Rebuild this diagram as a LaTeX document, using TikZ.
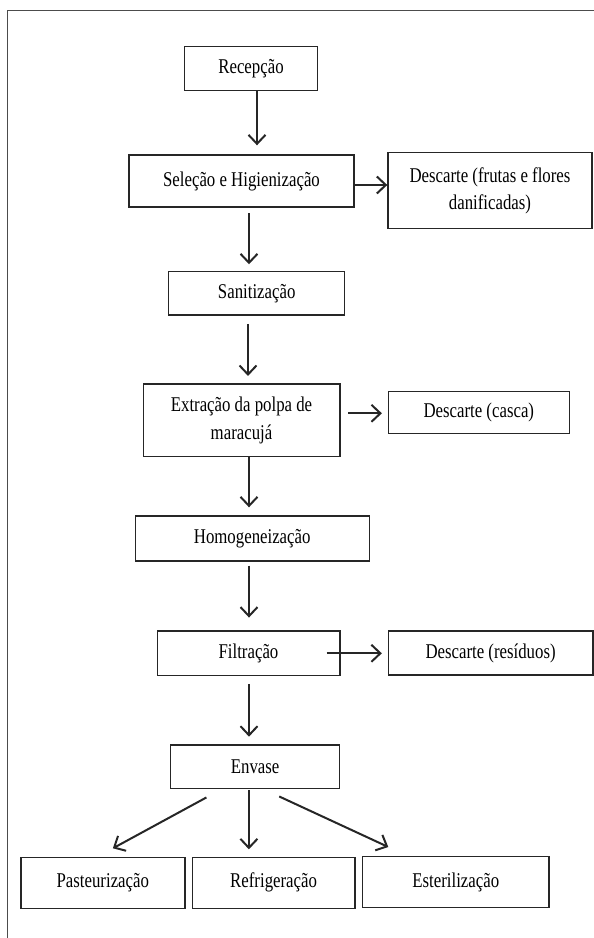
\documentclass[tikz,border=0pt]{standalone}
\usepackage{fontspec}
\setmainfont{Liberation Serif}[FakeStretch=0.8]
\usetikzlibrary{arrows.meta,calc}
\begin{document}
\begin{tikzpicture}[x=1pt,y=-1pt,
  box/.style={draw=black!85,line width=1.4pt,rectangle,inner sep=0pt,align=center,
    font=\fontsize{21}{27.5}\selectfont},
  arr/.style={draw=black!85,line width=2pt,-{Straight Barb[length=9pt,width=17pt]}},
  frame/.style={draw=black!70,line width=1.2pt}]
\useasboundingbox (0,0) rectangle (594,938);
\draw[frame] (7.5,938) -- (7.5,10.5) -- (594,10.5);

\node[box,minimum width=133pt,minimum height=44pt] (rec) at (251,68.7) {Recepção};
\node[box,minimum width=225pt,minimum height=52pt] (sel) at (241.5,181) {Seleção e Higienização};
\node[box,minimum width=204pt,minimum height=76pt] (dfr) at (490,190.7) {Descarte (frutas e flores\\danificadas)};
\node[box,minimum width=176pt,minimum height=43.3pt] (san) at (256.7,293.3) {Sanitização};
\node[box,minimum width=196.6pt,minimum height=72.7pt] (ext) at (241.5,420.3) {Extração da polpa de\\maracujá};
\node[box,minimum width=181pt,minimum height=41.6pt] (dca) at (478.8,412.5) {Descarte (casca)};
\node[box,minimum width=234pt,minimum height=45pt] (hom) at (252.2,538.5) {Homogeneização};
\node[box,minimum width=182.6pt,minimum height=44.7pt] (fil) at (248.5,653.3) {Filtração};
\node[box,minimum width=204.7pt,minimum height=44pt] (dre) at (490.6,653) {Descarte (resíduos)};
\node[box,minimum width=169.3pt,minimum height=43.3pt] (env) at (255.1,766.7) {Envase};
\node[box,minimum width=164pt,minimum height=51pt] (pas) at (102.8,882.8) {Pasteurização};
\node[box,minimum width=162.5pt,minimum height=51pt] (ref) at (273.6,882.8) {Refrigeração};
\node[box,minimum width=186.7pt,minimum height=50.6pt] (est) at (455.8,882) {Esterilização};

\draw[arr] ($(rec.south)+(6,0)$) -- ($(sel.north)+(15.5,-9)$);
\draw[arr] ($(sel.east)+(0,4)$) -- ($(dfr.west)+(0,-5.7)$);
\draw[arr] ($(sel.south)+(7.5,5.7)$) -- ($(san.north)+(-7.7,-6.7)$);
\draw[arr] ($(san.south)+(-8.7,8.3)$) -- ($(ext.north)+(6.5,-7.3)$);
\draw[arr] ($(ext.east)+(7.9,-7)$) -- ($(dca.west)+(-5.7,0.8)$);
\draw[arr] ($(ext.south)+(7.5,0)$) -- ($(hom.north)+(-3.2,-8)$);
\draw[arr] ($(hom.south)+(-3.2,4)$) -- ($(fil.north)+(0.5,-12.7)$);
\draw[arr] ($(fil.east)+(-14,0)$) -- ($(dre.west)+(-5.7,0.3)$);
\draw[arr] ($(fil.south)+(0.5,7.6)$) -- ($(env.north)+(-6.1,-7.7)$);
\draw[arr] ($(env.south)+(-48.7,8.4)$) -- ($(pas.north)+(10.1,-8.3)$);
\draw[arr] ($(env.south)+(-6.2,1)$) -- ($(ref.north)+(-24.7,-7.3)$);
\draw[arr] ($(env.south)+(24.1,7.4)$) -- ($(est.north)+(-67.5,-9)$);
\end{tikzpicture}
\end{document}
